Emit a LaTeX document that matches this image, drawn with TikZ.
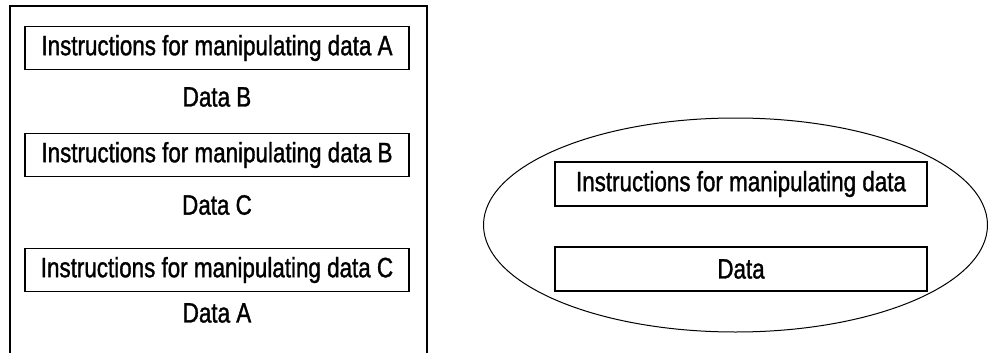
\documentclass[tikz,border=0pt]{standalone}
\usepackage{fontspec}
\setmainfont{Liberation Sans}[FakeStretch=0.80,FakeBold=1.2]
\usetikzlibrary{shapes.geometric}

\begin{document}
\begin{tikzpicture}[x=1pt,y=-1pt,
    instr/.style={draw,line width=1.2pt,inner sep=0pt,minimum height=43pt,font=\fontsize{28}{32}\selectfont},
    datalbl/.style={font=\fontsize{28}{32}\selectfont}]
        \useasboundingbox (0,0) rectangle (988,353);

        % procedural: instructions and data kept apart
        \draw[line width=1.5pt] (10,353) -- (10,6) -- (427,6) -- (427,353);
        \node[instr,minimum width=384pt] at (217,48) (IA) {Instructions for manipulating data A};
        \node[datalbl] at (217,97) (DB) {Data B};
        \node[instr,minimum width=384pt] at (217,155) (IB) {Instructions for manipulating data B};
        \node[datalbl] at (217,205) (DC) {Data C};
        \node[instr,minimum width=384pt] at (217,270) (IC) {Instructions for manipulating data C};
        \node[datalbl] at (217,313) (DA) {Data A};

        % object: both in one
        \node[draw,ellipse,line width=1pt,minimum width=504pt,minimum height=214pt] at (735.5,225) (obj) {};
        \node[instr,minimum width=372pt,minimum height=44pt] at (741,184) (IO) {Instructions for manipulating data};
        \node[instr,minimum width=372pt,minimum height=44pt] at (741,269) (DO) {Data};
    \end{tikzpicture}
\end{document}
